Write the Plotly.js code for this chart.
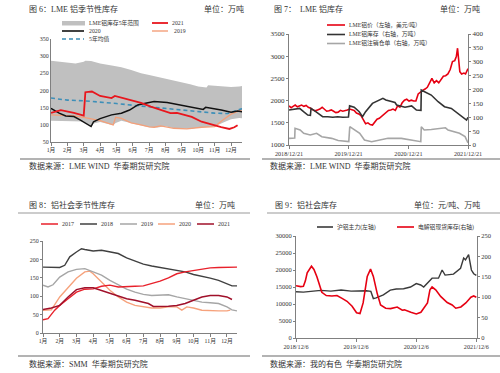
<!DOCTYPE html>
<html><head><meta charset="utf-8">
<script src="https://cdn.plot.ly/plotly-3.0.1.min.js"></script>
<style>html,body{margin:0;padding:0;background:#fff}#chart{width:500px;height:373px}</style>
</head><body><div id="chart"></div>
<script>
// ================= DATA =================
// ---- Panel 1: LME aluminium seasonal stocks (万吨) ----
const p1MonthTicks = [1,2,3,4,5,6,7,8,9,10,11,12];
const p1MonthLabels = ['1月','2月','3月','4月','5月','6月','7月','8月','9月','10月','11月','12月'];
const p1BandX    = [1,1.5,2,2.5,3,3.1,3.45,3.6,4,4.8,4.95,5.3,5.9,6.5,7,7.5,8,8.5,9,9.5,10,10.5,10.6,11,11.5,12,12.5,12.8];
const p1BandLow  = [112,112,111,112,110,105,95,104,108,99,105,112,104,98,93,92,96,90,89,88,92,93,93,95,106,116,120,118];
const p1BandHigh = [287,285,283,279,284,287,286,284,279,272,271,268,260,250,245,240,234,228,224,218,212,209,215,214,212,210,212,214];
const p1X2021 = [1,1.6,2.4,3.0,3.1,3.5,4,4.7,4.9,5.5,6.1,6.5,7.1,7.7,8.3,8.7,9.1,9.6,10.2,10.8,11.4,11.9,12.2,12.4];
const p1V2021 = [135,143,135,127,195,197,184,178,184,177,168,164,153,143,134,135,129,123,109,100,93,88,93,99];
const p1X2020 = [1,1.5,1.9,2.4,2.8,3.2,3.45,3.6,4,4.7,5.3,5.8,6.3,6.7,7.3,8.1,8.9,9.75,10.3,10.45,11,11.4,12,12.4,12.8];
const p1V2020 = [148,134,126,124,114,102,95,109,118,129,134,143,158,162,168,165,158,152,145,151,147,143,137,140,137];
const p1X2019 = [1,2.4,3,4,4.8,4.95,5.3,5.9,6.5,7,7.3,7.7,8.5,9.3,10.2,11,11.5,12,12.6,12.8];
const p1V2019 = [129,126,122,112,100,122,119,106,100,94,93,97,90,88,93,95,114,131,143,145];
const p1XAvg = [1,2,3,4,5,6,7,8,9,10,11,11.8,12.2,12.6,12.8];
const p1VAvg = [178,172,170,167,162,157,152,148,143,138,134,133,140,146,147];
const p1Names = ['LME铝库存5年范围','2021','2020','2019','5年均值'];

// ---- Panel 2: LME aluminium price & stocks ----
const p2PriceDates = ['2018-12-21','2019-01-03','2019-01-15','2019-01-28','2019-02-10','2019-02-22','2019-03-08','2019-03-22','2019-04-05','2019-04-18','2019-05-02','2019-05-16','2019-05-30','2019-06-14','2019-06-28','2019-07-12','2019-07-26','2019-08-09','2019-08-23','2019-09-06','2019-09-20','2019-10-04','2019-10-18','2019-11-01','2019-11-15','2019-11-29','2019-12-13','2019-12-27','2020-01-10','2020-01-24','2020-02-07','2020-02-21','2020-03-06','2020-03-20','2020-04-03','2020-04-17','2020-05-01','2020-05-15','2020-05-29','2020-06-12','2020-06-26','2020-07-10','2020-07-24','2020-08-07','2020-08-21','2020-09-04','2020-09-18','2020-10-02','2020-10-16','2020-10-30','2020-11-13','2020-11-27','2020-12-11','2020-12-25','2021-01-08','2021-01-22','2021-02-05','2021-02-19','2021-03-05','2021-03-19','2021-04-02','2021-04-16','2021-04-30','2021-05-14','2021-05-28','2021-06-11','2021-06-25','2021-07-09','2021-07-23','2021-08-06','2021-08-20','2021-09-03','2021-09-17','2021-10-01','2021-10-11','2021-10-18','2021-10-25','2021-11-01','2021-11-12','2021-11-26','2021-12-06','2021-12-21'];
const p2Price = [1880,1840,1870,1900,1860,1880,1900,1870,1890,1850,1830,1790,1770,1790,1810,1850,1800,1760,1770,1790,1760,1730,1740,1780,1760,1770,1790,1810,1800,1780,1720,1700,1660,1560,1480,1500,1460,1450,1530,1580,1600,1650,1680,1730,1780,1790,1810,1780,1880,1850,1950,2010,2030,1990,2010,1990,1990,2150,2200,2230,2260,2300,2400,2500,2400,2450,2400,2480,2550,2560,2600,2700,2880,2900,3000,3180,2880,2650,2600,2620,2600,2720];
const p2StockDates = ['2018-12-21','2019-01-20','2019-02-24','2019-03-20','2019-04-15','2019-05-01','2019-05-05','2019-06-03','2019-07-15','2019-08-15','2019-09-15','2019-10-15','2019-11-15','2019-12-20','2019-12-27','2020-01-24','2020-02-24','2020-03-15','2020-04-03','2020-05-15','2020-06-27','2020-07-18','2020-08-05','2020-09-30','2020-10-10','2020-11-30','2021-01-10','2021-02-08','2021-03-08','2021-03-10','2021-03-30','2021-05-10','2021-06-21','2021-07-30','2021-09-10','2021-10-21','2021-12-03','2021-12-12','2021-12-21'];
const p2Stock = [126,128,132,120,108,107,132,120,102,102,100,102,100,101,141,136,120,102,120,150,162,168,162,153,144,136,141,126,125,198,192,180,156,138,132,114,96,90,100];
const p2WarrantDates = ['2018-12-21','2019-01-10','2019-01-25','2019-01-27','2019-02-27','2019-03-21','2019-04-30','2019-06-08','2019-07-10','2019-09-08','2019-10-18','2019-12-22','2019-12-28','2020-02-27','2020-03-27','2020-05-10','2020-07-10','2020-08-18','2020-11-08','2021-01-10','2021-03-07','2021-03-10','2021-03-28','2021-05-10','2021-07-10','2021-08-05','2021-08-21','2021-10-03','2021-10-30','2021-12-03','2021-12-21'];
const p2Warrant = [24,24,25,60,54,42,36,42,30,24,16,12,66,42,18,12,20,24,24,18,12,66,54,56,60,62,54,48,42,30,8];
const p2TickDates = ['2018-12-21','2019-12-21','2020-12-21','2021-12-21'];
const p2TickLabels = ['2018/12/21','2019/12/21','2020/12/21','2021/12/21'];
const p2Names = ['LME铝价（左轴，美元/吨）','LME铝库存（右轴，万吨）','LME铝注销仓单（右轴，万吨）'];

// ---- Panel 3: aluminium social seasonal stocks (万吨) ----
const p3MonthTicks = [1,2,3,4,5,6,7,8,9,10,11,12];
const p3MonthLabels = ['1月','2月','3月','4月','5月','6月','7月','8月','9月','10月','11月','12月'];
const p3X2017 = [1,1.3,1.7,2,2.5,3,3.5,4,4.5,5,5.5,6,6.5,7,7.5,8,8.5,9,9.5,10,10.5,11,11.5,12,12.3,12.6];
const p3V2017 = [36,39,62,75,93,111,119,120,127,130,125,125,127,128,134,141,150,161,166,170,175,177,178,178,177,179];
const p3X2018 = [1,1.5,2,2.3,2.6,3,3.3,3.5,4,4.5,5,5.5,6,6.5,7,7.5,8,8.5,9,9.5,10,10.5,11,11.5,12,12.3,12.6];
const p3V2018 = [179,178,178,184,207,220,229,227,223,225,220,216,204,195,187,182,178,175,172,166,159,155,149,143,134,128,128];
const p3X2019 = [1,1.3,1.6,2,2.5,3,3.5,4,4.5,5,5.5,6,6.5,7,7.5,8,8.5,9,9.5,10,10.5,11,11.5,12,12.3,12.6];
const p3V2019 = [130,125,131,152,166,173,175,166,157,143,132,119,111,105,102,102,104,98,93,89,84,82,80,71,63,60];
const p3X2020 = [1,1.5,2,2.5,3,3.5,3.8,4,4.5,5,5.5,6,6.5,7,7.5,8,8.5,9,9.3,9.6,10,10.5,11,11.5,12,12.2];
const p3V2020 = [62,63,98,125,149,166,168,161,139,116,98,84,75,71,68,68,71,71,62,71,68,62,60,60,60,62];
const p3X2021 = [1,1.5,2,2.5,3,3.5,4,4.5,5,5.5,6,6.5,7,7.3,7.6,8,8.5,9,9.5,10,10.5,11,11.5,12,12.3];
const p3V2021 = [64,68,75,98,118,123,123,116,109,100,93,89,84,80,72,72,73,75,80,89,98,102,102,98,91];
const p3Names = ['2017','2018','2019','2020','2021'];

// ---- Panel 4: SHFE aluminium & social stocks ----
const p4FutDates = ['2018-12-06','2019-01-20','2019-03-06','2019-05-06','2019-07-06','2019-09-06','2019-11-06','2019-12-20','2020-02-06','2020-03-05','2020-03-20','2020-04-06','2020-05-20','2020-07-01','2020-08-06','2020-09-20','2020-11-01','2020-12-06','2021-01-02','2021-01-20','2021-02-20','2021-03-12','2021-04-20','2021-05-12','2021-05-30','2021-07-20','2021-09-01','2021-09-20','2021-10-01','2021-10-20','2021-11-06','2021-11-20','2021-12-06'];
const p4Fut = [13600,13500,13700,14000,13800,14100,13800,13900,13900,13700,11600,11800,12700,14100,14400,14500,15000,16000,15600,15000,16400,17600,17600,20000,18500,18800,20500,23500,23000,24500,20000,18900,18400];
const p4StockDates = ['2018-12-06','2019-01-03','2019-01-20','2019-02-01','2019-02-12','2019-03-10','2019-03-25','2019-04-12','2019-05-12','2019-06-08','2019-07-12','2019-08-12','2019-09-12','2019-10-12','2019-11-12','2019-12-09','2019-12-30','2020-01-18','2020-02-12','2020-03-03','2020-03-20','2020-04-12','2020-05-03','2020-06-03','2020-07-03','2020-08-12','2020-09-12','2020-09-25','2020-11-03','2020-12-06','2021-01-03','2021-01-20','2021-02-12','2021-02-27','2021-03-12','2021-04-03','2021-05-03','2021-06-12','2021-07-12','2021-08-03','2021-09-03','2021-10-03','2021-11-03','2021-11-20','2021-12-06'];
const p4Stock = [128,126,127,140,160,176,168,150,112,104,103,104,97,90,78,62,60,86,151,169,151,110,81,73,72,76,68,69,63,59,63,73,86,118,125,118,102,87,81,73,76,86,100,103,100];
const p4TickDates = ['2018-12-06','2019-12-06','2020-12-06','2021-12-06'];
const p4TickLabels = ['2018/12/6','2019/12/6','2020/12/6','2021/12/6'];
const p4Names = ['沪铝主力(左轴)','电解铝现货库存(右轴)'];

// ================= STYLE / LAYOUT =================
const W = 500, H = 373;
const fx = p => p / W;
const fy = p => 1 - p / H;
const SERIF = '"Liberation Serif", "Noto Sans CJK SC", serif';
const AX = '#808080';
const TXT = '#333333';

const C = {
  band:'#c0c0c0', r21:'#e8161d', b20:'#111111', o19:'#f4a07a', avg:'#3d8fb8',
  p2red:'#e60012', p2blk:'#333333', p2gry:'#a6a6a6',
  y17:'#e8212b', y18:'#404040', y19:'#a6a6a6', y20:'#f6a27c', y21:'#a0102a',
  p4blk:'#3a3a3a', p4red:'#e60012'
};

function ln(x, y, xa, ya, color, width, dash) {
  return {x, y, xaxis:xa, yaxis:ya, type:'scatter', mode:'lines', showlegend:false, hoverinfo:'skip',
    line:{color, width, dash: dash || 'solid', shape:'linear'}};
}

const traces = [
  // panel 1
  {x:p1BandX, y:p1BandLow, xaxis:'x', yaxis:'y', type:'scatter', mode:'lines', line:{width:0,color:'rgba(0,0,0,0)'}, showlegend:false, hoverinfo:'skip'},
  {x:p1BandX, y:p1BandHigh, xaxis:'x', yaxis:'y', type:'scatter', mode:'lines', fill:'tonexty', fillcolor:C.band, line:{width:0,color:'rgba(0,0,0,0)'}, showlegend:false, hoverinfo:'skip'},
  ln(p1X2019, p1V2019, 'x', 'y', C.o19, 1.3),
  ln(p1XAvg, p1VAvg, 'x', 'y', C.avg, 1.6, '4px,3px'),
  ln(p1X2020, p1V2020, 'x', 'y', C.b20, 1.5),
  ln(p1X2021, p1V2021, 'x', 'y', C.r21, 1.8),
  // panel 2
  ln(p2WarrantDates, p2Warrant, 'x2', 'y3', C.p2gry, 1.6),
  ln(p2StockDates, p2Stock, 'x2', 'y3', C.p2blk, 1.6),
  ln(p2PriceDates, p2Price, 'x2', 'y2', C.p2red, 1.6),
  // panel 3
  ln(p3X2020, p3V2020, 'x3', 'y4', C.y20, 1.4),
  ln(p3X2019, p3V2019, 'x3', 'y4', C.y19, 1.4),
  ln(p3X2018, p3V2018, 'x3', 'y4', C.y18, 1.4),
  ln(p3X2017, p3V2017, 'x3', 'y4', C.y17, 1.4),
  ln(p3X2021, p3V2021, 'x3', 'y4', C.y21, 1.5),
  // panel 4
  ln(p4FutDates, p4Fut, 'x4', 'y5', C.p4blk, 1.4),
  ln(p4StockDates, p4Stock, 'x4', 'y6', C.p4red, 1.6)
];

const tickFont = size => ({family:SERIF, size, color:TXT});
function xAx(extra) {
  return Object.assign({showline:true, linecolor:AX, linewidth:1, ticks:'outside', ticklen:2.5, tickcolor:AX,
    showgrid:false, zeroline:false, fixedrange:true, automargin:false}, extra);
}
function yAx(extra) {
  return Object.assign({showline:true, linecolor:AX, linewidth:1, ticks:'outside', ticklen:2, tickcolor:AX,
    showgrid:false, zeroline:false, fixedrange:true, automargin:false}, extra);
}

const layout = {
  width:W, height:H, margin:{l:0,r:0,t:0,b:0}, autosize:false,
  paper_bgcolor:'#ffffff', plot_bgcolor:'rgba(0,0,0,0)', showlegend:false,
  xaxis: xAx({domain:[fx(51),fx(242)], range:[1,12.67], anchor:'y', tickvals:p1MonthTicks, ticktext:p1MonthLabels, tickfont:tickFont(5.8)}),
  yaxis: yAx({domain:[fy(142),fy(39)], range:[50,350], dtick:50, tick0:50, anchor:'x', tickfont:tickFont(6), ticks:''}),
  xaxis2: xAx({domain:[fx(289),fx(468)], type:'date', range:['2018-12-21','2021-12-21'], anchor:'y2', tickvals:p2TickDates, ticktext:p2TickLabels, tickfont:tickFont(6.2)}),
  yaxis2: yAx({domain:[fy(145),fy(34)], range:[1000,3500], dtick:500, tick0:1000, anchor:'x2', tickfont:tickFont(7)}),
  yaxis3: yAx({domain:[fy(145),fy(34)], range:[0,400], dtick:50, tick0:0, anchor:'x2', overlaying:'y2', side:'right', tickfont:tickFont(7)}),
  xaxis3: xAx({domain:[fx(43),fx(237)], range:[1,12.6], anchor:'y4', tickvals:p3MonthTicks, ticktext:p3MonthLabels, tickfont:tickFont(5.8)}),
  yaxis4: yAx({domain:[fy(333),fy(241)], range:[0,250], dtick:50, tick0:0, anchor:'x3', tickfont:tickFont(6)}),
  xaxis4: xAx({domain:[fx(296),fx(477)], type:'date', range:['2018-12-06','2021-12-10'], anchor:'y5', tickvals:p4TickDates, ticktext:p4TickLabels, tickfont:tickFont(6.2)}),
  yaxis5: yAx({domain:[fy(338),fy(236)], range:[0,30000], dtick:5000, tick0:0, anchor:'x4', tickformat:'d', tickfont:tickFont(6.5)}),
  yaxis6: yAx({domain:[fy(338),fy(236)], range:[0,250], dtick:50, tick0:0, anchor:'x4', overlaying:'y5', side:'right', tickfont:tickFont(6.5)}),
  shapes: [], annotations: []
};

function ann(text, x, y, anchor, size, color) {
  layout.annotations.push({text, xref:'paper', yref:'paper', x:fx(x), y:fy(y), xanchor:anchor, yanchor:'middle',
    showarrow:false, font:{family:SERIF, size, color: color || TXT}});
}
function hline(x0, x1, y, color, width, dash) {
  layout.shapes.push({type:'line', xref:'paper', yref:'paper', x0:fx(x0), x1:fx(x1), y0:fy(y), y1:fy(y),
    line:{color, width, dash: dash || 'solid'}});
}
function keyRect(x0, x1, y0, y1, color) {
  layout.shapes.push({type:'rect', xref:'paper', yref:'paper', x0:fx(x0), x1:fx(x1), y0:fy(y0), y1:fy(y1),
    line:{width:0}, fillcolor:color});
}

// Headers & footers
ann('图 6：LME 铝季节性库存', 27, 9, 'left', 8);
ann('单位：万吨', 246, 9, 'right', 8);
ann('图 7：  LME 铝库存', 272, 9, 'left', 8);
ann('单位：万吨', 482, 9, 'right', 8);
ann('图 8：铝社会季节性库存', 27, 205, 'left', 8);
ann('单位：万吨', 237, 205, 'right', 8);
ann('图 9：铝社会库存', 273, 205, 'left', 8);
ann('单位：元/吨、万吨', 482, 205, 'right', 8);
ann('数据来源：LME WIND  华泰期货研究院', 27, 166, 'left', 8);
ann('数据来源：LME WIND  华泰期货研究院', 268, 166, 'left', 8);
ann('数据来源：SMM  华泰期货研究院', 27, 364, 'left', 8);
ann('数据来源：我的有色  华泰期货研究院', 268, 364, 'left', 8);
hline(20, 250, 159, '#9a9a9a', 1.5);
hline(262, 500, 159, '#9a9a9a', 1.5);
hline(18, 250, 213, '#9a9a9a', 1.2);
hline(267, 500, 213, '#9a9a9a', 1.2);
hline(18, 250, 356, '#9a9a9a', 1.5);
hline(262, 500, 356, '#9a9a9a', 1.5);

// Legend keys: panel 1
keyRect(62, 85, 21, 25.5, C.band); ann(p1Names[0], 87, 23, 'left', 5.8);
hline(152, 168, 23, C.r21, 1.8);   ann(p1Names[1], 170, 23, 'left', 5.8);
hline(62, 84, 31, C.b20, 1.6);     ann(p1Names[2], 87, 31, 'left', 5.8);
hline(152, 168, 31, C.o19, 1.4);   ann(p1Names[3], 172, 31, 'left', 5.8);
hline(62, 84, 39, C.avg, 1.6, '4px,3px'); ann(p1Names[4], 87, 39, 'left', 5.8);
// panel 2
hline(327, 345, 25, C.p2red, 1.6); ann(p2Names[0], 347, 25, 'left', 5.8);
hline(327, 345, 34.5, C.p2blk, 1.6); ann(p2Names[1], 347, 34.5, 'left', 5.8);
hline(327, 345, 43.5, C.p2gry, 1.6); ann(p2Names[2], 347, 43.5, 'left', 5.8);
// panel 3
const p3Colors = [C.y17, C.y18, C.y19, C.y20, C.y21];
const p3KeyX = [41, 80, 120, 158, 197];
p3Names.forEach((n, i) => { hline(p3KeyX[i], p3KeyX[i] + 17, 224, p3Colors[i], 1.5); ann(n, p3KeyX[i] + 19, 224, 'left', 6); });
// panel 4
hline(317, 333, 227, C.p4blk, 1.6); ann(p4Names[0], 335, 227, 'left', 5.8);
hline(397, 414, 227, C.p4red, 1.6); ann(p4Names[1], 416, 227, 'left', 5.8);

Plotly.newPlot('chart', traces, layout, {staticPlot:true, displayModeBar:false});
</script>
</body></html>
